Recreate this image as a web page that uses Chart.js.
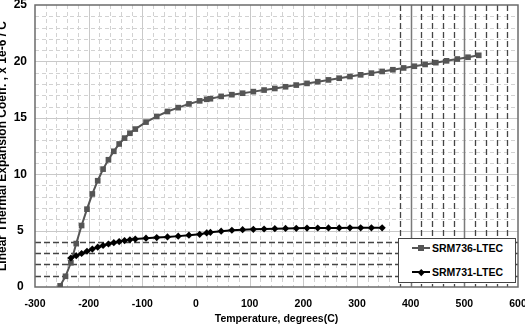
<!DOCTYPE html>
<html><head><meta charset="utf-8">
<script src="https://cdn.jsdelivr.net/npm/chart.js@4.4.1/dist/chart.umd.min.js"></script>
<style>
html,body{margin:0;padding:0;background:#fff;}
#wrap{position:relative;width:525px;height:324px;overflow:hidden;}
#legend{position:absolute;left:398px;top:238px;width:116px;height:43px;border:1px solid #444;background:#fff;font:bold 10.5px "Liberation Sans",Arial,sans-serif;color:#000;}
.row{position:absolute;left:0;height:14px;width:100%;}
.ln{position:absolute;left:13px;width:18px;top:6px;height:2px;}
.mk{position:absolute;}
.tx{position:absolute;left:33px;top:0;line-height:14px;white-space:nowrap;}
</style></head><body>
<div id="wrap"><canvas id="c" width="525" height="324"></canvas><div id="legend"></div></div>
<script>
// ---- data (temperatures in degrees C, LTEC in 1e-6/C) ----
const seriesNames = ['SRM736-LTEC', 'SRM731-LTEC'];
const srm736TempC = [-253.15,-243.15,-233.15,-223.15,-213.15,-203.15,-193.15,-183.15,-173.15,-163.15,-153.15,-143.15,-133.15,-123.15,-113.15,
  -93.15,-73.15,-53.15,-33.15,-13.15,6.85,19.85,26.85,
  46.85,66.85,86.85,106.85,126.85,146.85,166.85,186.85,206.85,226.85,246.85,266.85,286.85,306.85,326.85,346.85,366.85,386.85,406.85,426.85,446.85,466.85,486.85,506.85,526.85];
const srm736Ltec = [0.1,0.95,2.15,3.85,5.45,6.9,8.25,9.42,10.45,11.28,12.03,12.68,13.2,13.63,14.0,
  14.62,15.12,15.56,15.9,16.23,16.5,16.64,16.69,
  16.9,17.05,17.18,17.32,17.46,17.6,17.75,17.9,18.05,18.2,18.36,18.51,18.66,18.81,18.96,19.11,19.26,19.42,19.57,19.73,19.89,20.05,20.21,20.37,20.54];
const srm731TempC = [-233.15,-223.15,-213.15,-203.15,-193.15,-183.15,-173.15,-163.15,-153.15,-143.15,-133.15,-123.15,-113.15,
  -93.15,-73.15,-53.15,-33.15,-13.15,6.85,19.85,26.85,
  46.85,66.85,86.85,106.85,126.85,146.85,166.85,186.85,206.85,226.85,246.85,266.85,286.85,306.85,326.85,346.85];
const srm731Ltec = [2.57,2.77,2.97,3.17,3.36,3.53,3.68,3.81,3.93,4.03,4.12,4.19,4.25,
  4.33,4.38,4.44,4.51,4.59,4.67,4.79,4.85,
  4.95,5.03,5.08,5.11,5.14,5.17,5.19,5.2,5.22,5.23,5.24,5.24,5.25,5.25,5.25,5.25];
const xTickValues = [-300,-200,-100,0,100,200,300,400,500,600];
const yTickValues = [0,5,10,15,20,25];
const xAxisTitle = 'Temperature, degrees(C)';
const yAxisTitle = 'Linear Thermal Expansion Coeff. , x 1e-6 / C';

// ---- styling ----
const FONT = '"Liberation Sans", Arial, sans-serif';
const X_MINOR = 20, Y_MINOR = 1;
const X_MAJOR = 100, Y_MAJOR = 5;
const DARK_X_FROM = 380, DARK_Y_TO = 4;

const gridPlugin = {
  id: 'excelGrid',
  beforeDatasetsDraw(chart) {
    const {ctx, chartArea: a, scales: {x, y}} = chart;
    ctx.save();
    const seg = (x1, y1, x2, y2, color, dash, w) => {
      ctx.beginPath(); ctx.setLineDash(dash); ctx.strokeStyle = color; ctx.lineWidth = w;
      ctx.moveTo(x1, y1); ctx.lineTo(x2, y2); ctx.stroke();
    };
    const styleFor = (major, dark) => major
      ? (dark ? ['#7a7a7a', [], 1.5] : ['#c9c9c9', [], 1])
      : (dark ? ['#454545', [6, 3], 1.3] : ['#d2d2d2', [4, 3], 1]);
    for (const pass of [false, true]) {
      for (let v = x.min + X_MINOR; v < x.max; v += X_MINOR) {
        const dark = v >= DARK_X_FROM;
        if (dark !== pass) continue;
        const px = Math.round(x.getPixelForValue(v)) + 0.5;
        const [c, d, w] = styleFor(v % X_MAJOR === 0, dark);
        seg(px, a.top, px, a.bottom, c, d, w);
      }
      for (let v = y.min + Y_MINOR; v < y.max; v += Y_MINOR) {
        const dark = v <= DARK_Y_TO;
        if (dark !== pass) continue;
        const py = Math.round(y.getPixelForValue(v)) + 0.5;
        const [c, d, w] = styleFor(v % Y_MAJOR === 0, dark);
        seg(a.left, py, a.right, py, c, d, w);
      }
    }
    ctx.setLineDash([]);
    ctx.strokeStyle = '#6b6b6b'; ctx.lineWidth = 1.5;
    ctx.strokeRect(a.left, a.top, a.right - a.left, a.bottom - a.top);
    ctx.restore();
  }
};

const toPoints = (xs, ys) => xs.map((t, i) => ({x: t, y: ys[i]}));

const chart = new Chart(document.getElementById('c'), {
  type: 'line',
  data: {
    datasets: [
      {label: seriesNames[0], data: toPoints(srm736TempC, srm736Ltec),
       borderColor: '#555555', backgroundColor: '#555555', borderWidth: 2,
       pointStyle: 'rect', pointRadius: 4, pointBorderWidth: 0, order: 2},
      {label: seriesNames[1], data: toPoints(srm731TempC, srm731Ltec),
       borderColor: '#000000', backgroundColor: '#000000', borderWidth: 2,
       pointStyle: 'rectRot', pointRadius: 3.6, pointBorderWidth: 0, order: 1}
    ]
  },
  options: {
    responsive: false, animation: false, devicePixelRatio: 1,
    layout: {padding: {top: 5, right: 7, left: 0, bottom: 0}},
    plugins: {legend: {display: false}, tooltip: {enabled: false}},
    scales: {
      x: {
        type: 'linear', min: xTickValues[0], max: xTickValues[xTickValues.length - 1],
        afterBuildTicks: s => { s.ticks = xTickValues.map(v => ({value: v})); },
        ticks: {color: '#000', font: {family: FONT, size: 10.5, weight: 'bold'}, padding: 11, maxRotation: 0, autoSkip: false},
        grid: {display: false, drawTicks: false}, border: {display: false},
        title: {display: true, text: xAxisTitle, color: '#000', font: {family: FONT, size: 10.5, weight: 'bold'}, padding: {top: 0, bottom: -1}},
        afterFit: s => { s.height = 37; s.paddingLeft = 0; s.paddingRight = 0; }
      },
      y: {
        type: 'linear', min: yTickValues[0], max: yTickValues[yTickValues.length - 1],
        afterBuildTicks: s => { s.ticks = yTickValues.map(v => ({value: v})); },
        ticks: {color: '#000', font: {family: FONT, size: 12, weight: 'bold'}, padding: 8, crossAlign: 'center', autoSkip: false},
        grid: {display: false, drawTicks: false}, border: {display: false},
        title: {display: true, text: yAxisTitle, color: '#000', font: {family: FONT, size: 12, weight: 'bold'}, padding: {top: -5, bottom: 0}},
        afterFit: s => { s.width = 35; s.paddingTop = 0; s.paddingBottom = 0; }
      }
    }
  },
  plugins: [gridPlugin]
});

// ---- legend (HTML overlay, built from datasets) ----
const legendEl = document.getElementById('legend');
chart.data.datasets.forEach((ds, i) => {
  const row = document.createElement('div');
  row.className = 'row';
  row.style.top = (i === 0 ? 2 : 26) + 'px';
  const ln = document.createElement('div');
  ln.className = 'ln'; ln.style.background = ds.borderColor;
  const mk = document.createElement('div');
  mk.className = 'mk'; mk.style.background = ds.backgroundColor;
  if (ds.pointStyle === 'rect') {
    mk.style.cssText += 'left:19px;top:4px;width:6px;height:6px;';
  } else {
    mk.style.cssText += 'left:20px;top:5px;width:4.5px;height:4.5px;transform:rotate(45deg);';
  }
  const tx = document.createElement('div');
  tx.className = 'tx'; tx.textContent = ds.label;
  row.appendChild(ln); row.appendChild(mk); row.appendChild(tx);
  legendEl.appendChild(row);
});
</script>
</body></html>
